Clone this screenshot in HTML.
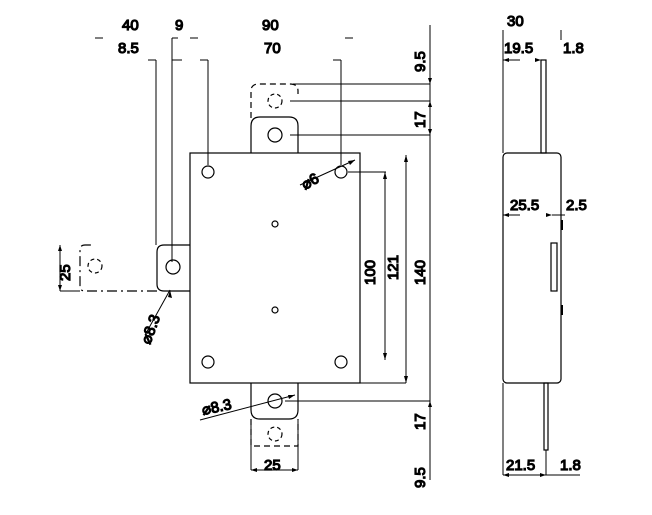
<!DOCTYPE html>
<html><head><style>body{margin:0;background:#fff}svg{display:block}text{font-family:"Liberation Sans",sans-serif;font-size:15px;fill:#000}</style></head><body>
<svg width="652" height="515" viewBox="0 0 652 515" stroke="#000" fill="none" stroke-width="1.2">
<rect x="190" y="153" width="170" height="230"/>
<path d="M251 153V126q0-9 9-9h29q9 0 9 9v27"/>
<circle cx="275" cy="135" r="7"/>
<path d="M251 118V91q0-7 8-7h31q8 0 8 7v3" stroke-dasharray="6 4"/>
<circle cx="275" cy="101" r="7" stroke-dasharray="4 3"/>
<circle cx="208" cy="172" r="6"/><circle cx="341" cy="172" r="6"/>
<circle cx="208" cy="362" r="6"/><circle cx="341" cy="362" r="6"/>
<circle cx="275" cy="224" r="3"/><circle cx="275" cy="310" r="3"/>
<path d="M190 245H164q-7 0-7 7v32q0 7 7 7h26"/>
<circle cx="173" cy="267" r="7"/>
<path d="M157 291H85q-5 0-5-5V250q0-5 5-5h7" stroke-dasharray="10 4 2 4"/>
<circle cx="95" cy="266" r="7" stroke-dasharray="4 3"/>
<path d="M251 383v27q0 9 9 9h29q9 0 9-9v-27"/>
<circle cx="275" cy="401" r="7"/>
<path d="M251 419v27h47v-27" stroke-dasharray="6 4"/>
<circle cx="275" cy="434" r="7" stroke-dasharray="4 3"/>
<g stroke-width="1">
<path d="M156 60V245M172 38V262M208 60V165M341 60V165"/>
<path d="M148 60h8M172 60h10M200 60h8M333 60h8M172 38h6M95 38h8M190 38h8M345 38h8"/>
<path d="M293 84H430M290 101H430M290 135H430M348 172H386M385 172V360M406 155V383M360 383H406M285 401H430M430 25V480"/>
<path d="M60 245V291M60 291H80M300 185L355 160M170 290L145 335M200 420L295 395"/>
<path d="M251 420V470M298 420V470M251 470H298"/>
</g>
<g fill="#000" stroke="none">
<path d="M430 84l-2-6h4z M430 101l-2 6h4z M430 135l-2-6h4z M430 401l-2 6h4z M385 172l-2 7h4z M385 360l-2-7h4z M406 155l-2 7h4z M406 383l-2-7h4z M60 245l-2 6h4z M60 291l-2-6h4z M251 470l6-2v4z M298 470l-6-2v4z M355 160l-7 1 2 4z M295 395l-7 0 1 4z M170 290l-2 7 4 1z"/>
<path d="M503 60l6-2v4z M541 60l-6-2v4z M503 215l6-2v4z M552 215l-6-2v4z M503 475l6-2v4z M546 475l-6-2v4z"/>
</g>
<rect x="503" y="153" width="58" height="230" rx="4"/>
<rect x="541" y="60" width="5" height="93"/>
<rect x="544" y="383" width="4" height="67"/>
<path d="M546 450V475M503 30V153M503 383V475M561 30V40M503 475H580M503 60H520M503 215H520M552 215H565" stroke-width="1"/>
<rect x="551" y="243" width="6" height="48"/>
<path d="M562 220V230M562 305V315" stroke-width="2"/>
<text x="122" y="30">40</text><text x="175" y="30">9</text><text x="262" y="30">90</text>
<text x="118" y="53">8.5</text><text x="264" y="53">70</text>
<text x="507" y="26">30</text><text x="504" y="53">19.5</text><text x="563" y="53">1.8</text>
<text x="510" y="210">25.5</text><text x="566" y="210">2.5</text>
<text x="506" y="470">21.5</text><text x="560" y="470">1.8</text>
<text x="264" y="470">25</text>
<text transform="translate(425,72) rotate(-90)">9.5</text>
<text transform="translate(425,128) rotate(-90)">17</text>
<text transform="translate(425,430) rotate(-90)">17</text>
<text transform="translate(425,488) rotate(-90)">9.5</text>
<text transform="translate(375,285) rotate(-90)">100</text>
<text transform="translate(398,280) rotate(-90)">121</text>
<text transform="translate(425,285) rotate(-90)">140</text>
<text transform="translate(70,281) rotate(-90)">25</text>
<text transform="translate(305,190) rotate(-30)">⌀6</text>
<text transform="translate(150,345) rotate(-70)">⌀8.3</text>
<text transform="translate(203,415) rotate(-12)">⌀8.3</text>
</svg>
</body></html>
